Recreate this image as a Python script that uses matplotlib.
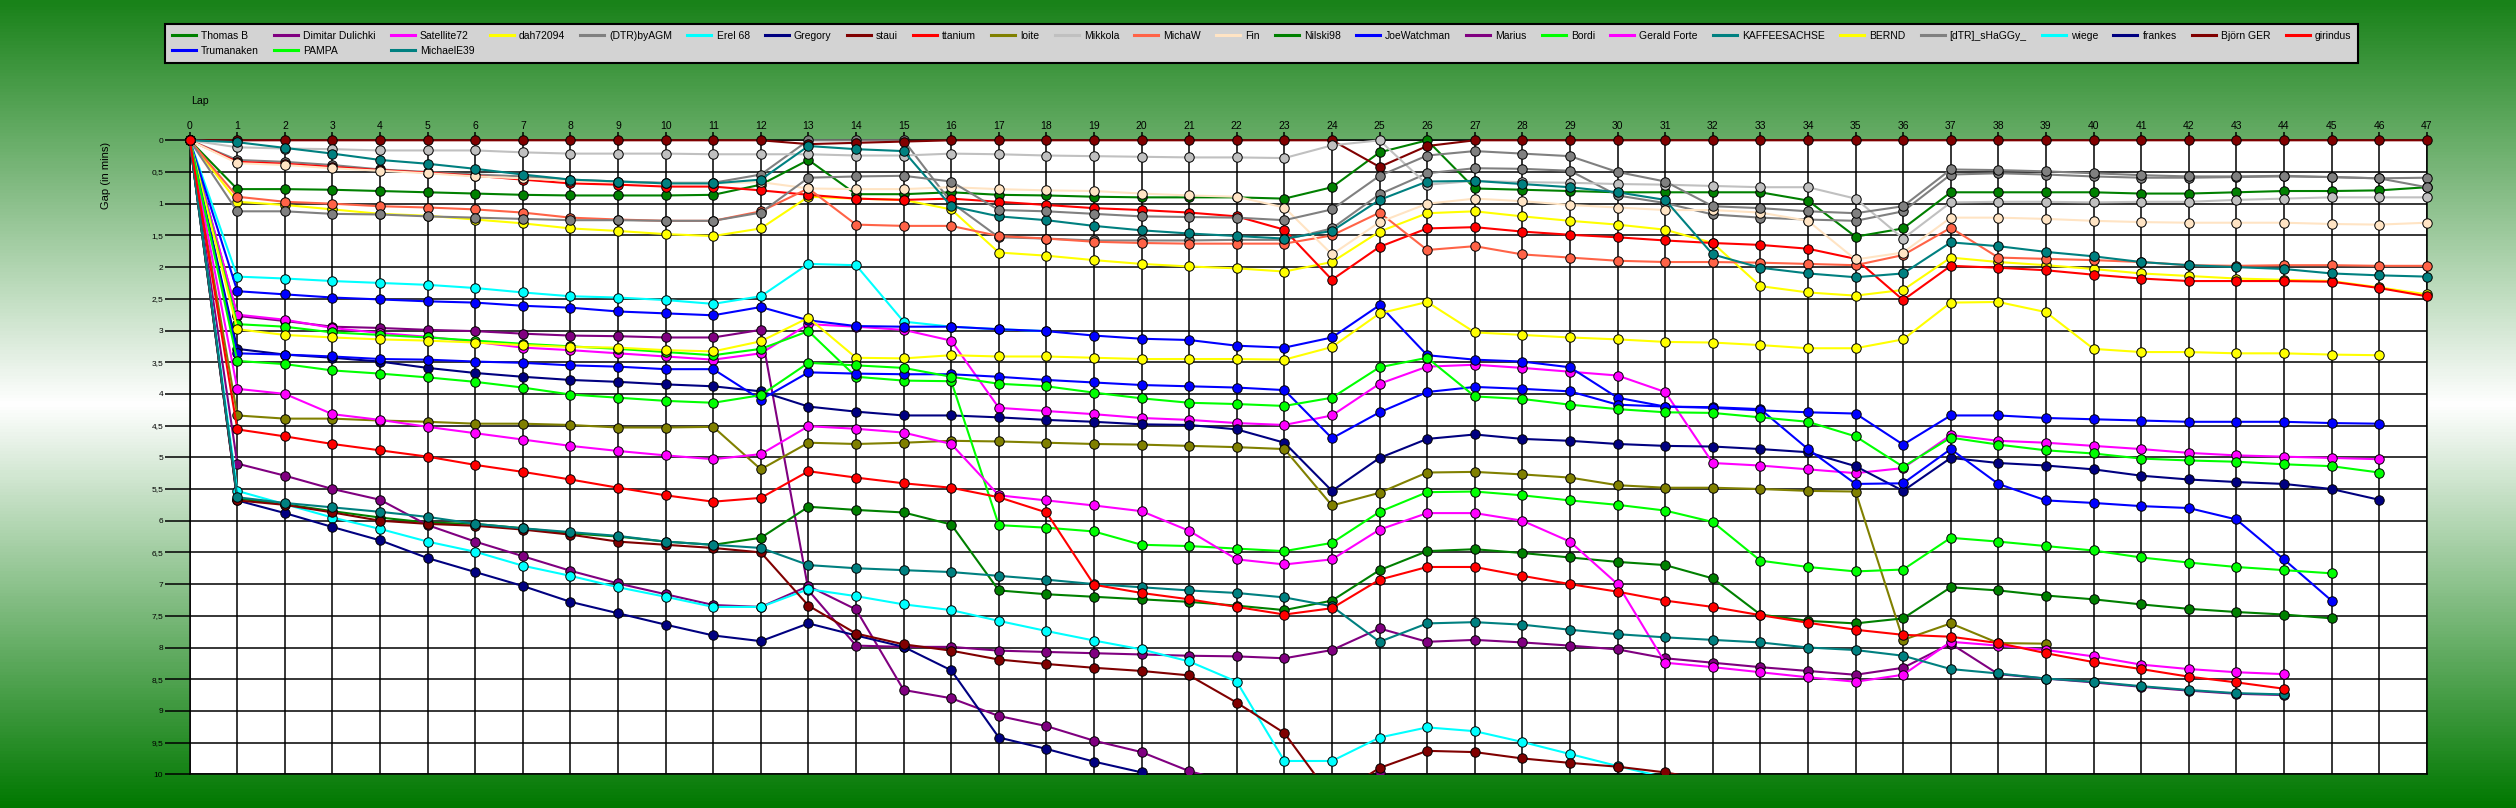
import numpy as np
import matplotlib
matplotlib.use('Agg')
import matplotlib.pyplot as plt
from matplotlib.colors import LinearSegmentedColormap
from matplotlib.patches import Rectangle
from matplotlib.lines import Line2D

plt.rcParams['font.family'] = ['Liberation Sans', 'DejaVu Sans']

# ---------------- data (gap to leader in minutes, per lap) ----------------
laps = list(range(48))

thomas_b = [0, 0.77, 0.77, 0.78, 0.80, 0.82, 0.84, 0.86, 0.87, 0.87,
            0.87, 0.86, 0.70, 0.31, 0.85, 0.85, 0.82, 0.86, 0.87, 0.89,
            0.90, 0.90, 0.90, 0.92, 0.74, 0.19, 0.0, 0.76, 0.78, 0.80,
            0.82, 0.82, 0.82, 0.82, 0.95, 1.52, 1.39, 0.82, 0.82, 0.82,
            0.82, 0.84, 0.84, 0.82, 0.80, 0.80, 0.79, 0.74]
dimitar = [0, 2.77, 2.85, 2.94, 2.96, 2.99, 3.01, 3.05, 3.08, 3.09,
           3.11, 3.11, 2.99, 7.10, 7.97, 7.99, 7.99, 8.05, 8.07, 8.09,
           8.11, 8.13, 8.14, 8.17, 8.04, 7.70, 7.91, 7.88, 7.92, 7.97,
           8.03, 8.17, 8.24, 8.31, 8.37, 8.43, 8.32, 7.94, 8.42, 8.49,
           8.55, 8.62, 8.68, 8.73, 8.75]
satellite72 = [0, 2.75, 2.83, 2.96, 3.04, 3.10, 3.18, 3.27, 3.31, 3.36,
               3.41, 3.46, 3.36, 2.90, 2.94, 2.99, 3.16, 4.22, 4.27, 4.32,
               4.38, 4.41, 4.46, 4.49, 4.34, 3.84, 3.57, 3.54, 3.59, 3.65,
               3.71, 3.97, 5.09, 5.13, 5.19, 5.25, 5.17, 4.65, 4.74, 4.77,
               4.82, 4.87, 4.93, 4.97, 4.99, 5.01, 5.03]
dah72094 = [0, 0.97, 1.02, 1.09, 1.16, 1.19, 1.25, 1.31, 1.39, 1.43,
            1.48, 1.51, 1.39, 0.89, 0.92, 0.94, 1.09, 1.77, 1.82, 1.89,
            1.95, 1.99, 2.02, 2.07, 1.92, 1.44, 1.15, 1.12, 1.20, 1.27,
            1.33, 1.41, 1.62, 2.30, 2.40, 2.45, 2.36, 1.85, 1.92, 1.97,
            2.03, 2.10, 2.14, 2.18, 2.20, 2.22, 2.32, 2.43]
dtr_byagm = [0, 0.31, 0.34, 0.39, 0.46, 0.50, 0.54, 0.57, 0.62, 0.65,
             0.67, 0.67, 0.54, 0.0, 0.0, 0.0, 0.98, 1.53, 1.55, 1.58,
             1.58, 1.58, 1.57, 1.57, 1.39, 0.85, 0.52, 0.44, 0.45, 0.48,
             0.87, 0.99, 1.17, 1.22, 1.25, 1.27, 1.12, 0.54, 0.52, 0.54,
             0.57, 0.59, 0.59, 0.58, 0.57, 0.58, 0.60, 0.59]
erel68 = [0, 2.15, 2.18, 2.22, 2.25, 2.28, 2.33, 2.40, 2.46, 2.48,
          2.52, 2.58, 2.46, 1.95, 1.97, 2.86, 2.94, 2.98, 3.01]
gregory = [0, 3.29, 3.38, 3.43, 3.49, 3.59, 3.67, 3.73, 3.78, 3.81,
           3.85, 3.88, 3.96, 4.20, 4.28, 4.34, 4.34, 4.37, 4.41, 4.44,
           4.48, 4.49, 4.56, 4.77, 5.53, 5.01, 4.71, 4.64, 4.71, 4.74,
           4.79, 4.82, 4.83, 4.87, 4.92, 5.14, 5.53, 5.01, 5.09, 5.13,
           5.19, 5.29, 5.35, 5.39, 5.42, 5.50, 5.67]
staui = [0, 0, 0, 0, 0, 0, 0, 0, 0, 0,
         0, 0, 0, 0.06, 0.04, 0.02, 0, 0, 0, 0,
         0, 0, 0, 0, 0, 0.42, 0.09, 0, 0, 0,
         0, 0, 0, 0, 0, 0, 0, 0, 0, 0,
         0, 0, 0, 0, 0, 0, 0, 0]
ttanium = [0, 0.34, 0.37, 0.42, 0.47, 0.51, 0.56, 0.62, 0.68, 0.70,
           0.73, 0.73, 0.79, 0.86, 0.92, 0.94, 0.92, 0.97, 1.02, 1.07,
           1.10, 1.14, 1.20, 1.41, 2.20, 1.68, 1.39, 1.37, 1.44, 1.49,
           1.53, 1.58, 1.62, 1.65, 1.71, 1.87, 2.52, 1.98, 2.01, 2.05,
           2.12, 2.18, 2.22, 2.22, 2.22, 2.23, 2.33, 2.46]
loite = [0, 4.34, 4.39, 4.39, 4.42, 4.44, 4.47, 4.47, 4.49, 4.53,
         4.53, 4.52, 5.19, 4.77, 4.79, 4.77, 4.74, 4.75, 4.77, 4.79,
         4.80, 4.82, 4.84, 4.87, 5.76, 5.56, 5.24, 5.23, 5.27, 5.32,
         5.44, 5.48, 5.48, 5.50, 5.53, 5.54, 7.88, 7.62, 7.93, 7.94]
mikkola = [0, 0.11, 0.13, 0.14, 0.16, 0.16, 0.16, 0.19, 0.21, 0.21,
           0.21, 0.22, 0.22, 0.22, 0.24, 0.24, 0.21, 0.22, 0.24, 0.25,
           0.26, 0.27, 0.27, 0.28, 0.08, 0.0, 0.70, 0.64, 0.66, 0.67,
           0.69, 0.70, 0.72, 0.74, 0.74, 0.92, 1.55, 0.98, 0.97, 0.97,
           0.98, 0.97, 0.97, 0.94, 0.92, 0.90, 0.90, 0.90]
michaw = [0, 0.89, 0.97, 1.00, 1.04, 1.06, 1.09, 1.14, 1.22, 1.25,
          1.27, 1.27, 1.12, 0.76, 1.33, 1.35, 1.35, 1.51, 1.55, 1.60,
          1.62, 1.63, 1.63, 1.63, 1.50, 1.14, 1.73, 1.67, 1.80, 1.85,
          1.90, 1.92, 1.92, 1.93, 1.95, 1.97, 1.81, 1.38, 1.85, 1.87,
          1.89, 1.92, 1.97, 1.98, 1.97, 1.97, 1.98, 1.98]
fin = [0, 0.36, 0.39, 0.44, 0.48, 0.52, 0.57, 0.60, 0.64, 0.66,
       0.68, 0.68, 0.66, 0.76, 0.77, 0.77, 0.74, 0.77, 0.79, 0.80,
       0.84, 0.87, 0.89, 1.06, 1.80, 1.29, 1.00, 0.92, 0.96, 1.02,
       1.06, 1.10, 1.10, 1.14, 1.27, 1.88, 1.77, 1.22, 1.22, 1.24,
       1.27, 1.29, 1.30, 1.30, 1.30, 1.32, 1.33, 1.30]
nilski98 = [0, 5.65, 5.74, 5.85, 5.95, 6.03, 6.05, 6.12, 6.20, 6.25,
            6.33, 6.38, 6.27, 5.78, 5.83, 5.87, 6.06, 7.10, 7.16, 7.20,
            7.24, 7.28, 7.34, 7.41, 7.26, 6.78, 6.48, 6.45, 6.51, 6.58,
            6.65, 6.70, 6.91, 7.48, 7.58, 7.62, 7.54, 7.05, 7.10, 7.18,
            7.24, 7.32, 7.39, 7.44, 7.48, 7.54]
joewatchman = [0, 2.38, 2.43, 2.48, 2.51, 2.54, 2.56, 2.61, 2.64, 2.70,
               2.73, 2.76, 2.63, 2.84, 2.93, 2.94, 2.94, 2.98, 3.01, 3.08,
               3.13, 3.15, 3.24, 3.27, 3.11, 2.60, 3.39, 3.46, 3.49, 3.58,
               4.06, 4.20, 4.21, 4.24, 4.87, 5.42, 5.41, 4.87, 5.42, 5.68,
               5.72, 5.77, 5.80, 5.98, 6.61, 7.26]
marius = [0, 5.10, 5.29, 5.50, 5.67, 6.07, 6.33, 6.56, 6.79, 6.99,
          7.16, 7.33, 7.36, 7.03, 7.40, 8.67, 8.80, 9.08, 9.24, 9.47,
          9.65, 9.95, 10.15, 10.3, 10.35, 9.98, 10.2, 10.2, 10.3, 10.4,
          10.5]
bordi = [0, 2.90, 2.94, 3.03, 3.07, 3.11, 3.16, 3.21, 3.25, 3.29,
         3.34, 3.39, 3.29, 3.01, 3.73, 3.79, 3.80, 6.07, 6.11, 6.17,
         6.38, 6.40, 6.44, 6.48, 6.35, 5.86, 5.55, 5.54, 5.60, 5.68,
         5.75, 5.84, 6.02, 6.63, 6.73, 6.80, 6.77, 6.27, 6.33, 6.40,
         6.47, 6.58, 6.66, 6.73, 6.78, 6.83]
gerald_forte = [0, 3.92, 4.00, 4.32, 4.41, 4.52, 4.62, 4.72, 4.82, 4.90,
                4.97, 5.03, 4.95, 4.51, 4.55, 4.61, 4.79, 5.60, 5.68, 5.76,
                5.85, 6.16, 6.61, 6.69, 6.61, 6.14, 5.88, 5.88, 6.00, 6.33,
                7.00, 8.24, 8.31, 8.39, 8.47, 8.54, 8.43, 7.91, 7.97, 8.04,
                8.14, 8.27, 8.34, 8.39, 8.42]
kaffeesachse = [0, 0.03, 0.12, 0.21, 0.31, 0.37, 0.45, 0.54, 0.62, 0.65,
                0.68, 0.68, 0.62, 0.09, 0.14, 0.17, 1.04, 1.20, 1.26, 1.35,
                1.42, 1.47, 1.51, 1.55, 1.43, 0.94, 0.65, 0.64, 0.69, 0.74,
                0.82, 0.94, 1.80, 2.01, 2.10, 2.16, 2.10, 1.61, 1.67, 1.76,
                1.83, 1.92, 1.97, 2.00, 2.03, 2.10, 2.13, 2.15]
bernd = [0, 2.98, 3.07, 3.11, 3.14, 3.16, 3.19, 3.23, 3.26, 3.27,
         3.31, 3.33, 3.17, 2.80, 3.43, 3.44, 3.39, 3.41, 3.41, 3.43,
         3.45, 3.45, 3.45, 3.46, 3.26, 2.73, 2.55, 3.03, 3.07, 3.11,
         3.14, 3.18, 3.19, 3.23, 3.28, 3.28, 3.14, 2.56, 2.55, 2.71,
         3.29, 3.34, 3.34, 3.36, 3.36, 3.38, 3.39]
dtr_shaggy = [0, 1.12, 1.12, 1.16, 1.17, 1.20, 1.22, 1.24, 1.26, 1.26,
              1.27, 1.27, 1.14, 0.59, 0.57, 0.56, 0.65, 1.10, 1.12, 1.16,
              1.20, 1.21, 1.22, 1.26, 1.09, 0.56, 0.24, 0.17, 0.21, 0.25,
              0.50, 0.65, 1.04, 1.07, 1.12, 1.15, 1.04, 0.46, 0.47, 0.49,
              0.52, 0.55, 0.57, 0.57, 0.56, 0.58, 0.60, 0.74]
wiege = [0, 5.53, 5.74, 5.95, 6.13, 6.33, 6.49, 6.71, 6.87, 7.05,
         7.20, 7.36, 7.36, 7.08, 7.19, 7.32, 7.41, 7.58, 7.74, 7.89,
         8.03, 8.22, 8.54, 9.79, 9.79, 9.42, 9.26, 9.32, 9.49, 9.68,
         9.87, 10.05, 10.25]
frankes = [0, 5.68, 5.88, 6.10, 6.31, 6.59, 6.81, 7.03, 7.28, 7.46,
           7.64, 7.81, 7.90, 7.62, 7.81, 7.99, 8.36, 9.42, 9.60, 9.80,
           9.97, 10.3, 10.5]
bjorn_ger = [0, 5.68, 5.75, 5.87, 6.00, 6.05, 6.08, 6.14, 6.22, 6.33,
             6.38, 6.43, 6.50, 7.34, 7.78, 7.95, 8.05, 8.19, 8.26, 8.32,
             8.37, 8.44, 8.87, 9.35, 10.37, 9.90, 9.63, 9.65, 9.75, 9.82,
             9.88, 9.97, 10.1, 10.2]
girindus = [0, 4.56, 4.67, 4.79, 4.89, 4.99, 5.12, 5.23, 5.35, 5.48,
            5.60, 5.70, 5.64, 5.22, 5.32, 5.41, 5.48, 5.63, 5.87, 7.01,
            7.14, 7.24, 7.36, 7.48, 7.38, 6.93, 6.73, 6.73, 6.87, 7.00,
            7.12, 7.26, 7.36, 7.49, 7.61, 7.72, 7.80, 7.83, 7.93, 8.09,
            8.23, 8.34, 8.46, 8.55, 8.65]
trumanaken = [0, 3.36, 3.38, 3.41, 3.45, 3.46, 3.49, 3.51, 3.55, 3.57,
              3.61, 3.61, 4.09, 3.66, 3.68, 3.69, 3.69, 3.73, 3.78, 3.82,
              3.86, 3.88, 3.90, 3.94, 4.70, 4.29, 3.97, 3.89, 3.92, 3.96,
              4.17, 4.20, 4.22, 4.26, 4.29, 4.31, 4.80, 4.34, 4.34, 4.38,
              4.40, 4.42, 4.44, 4.44, 4.44, 4.46, 4.47]
pampa = [0, 3.48, 3.53, 3.63, 3.68, 3.74, 3.81, 3.90, 4.01, 4.06,
         4.11, 4.14, 4.02, 3.51, 3.55, 3.59, 3.73, 3.84, 3.88, 3.98,
         4.07, 4.14, 4.16, 4.19, 4.06, 3.58, 3.43, 4.04, 4.08, 4.17,
         4.24, 4.29, 4.30, 4.37, 4.44, 4.67, 5.15, 4.69, 4.80, 4.89,
         4.94, 5.02, 5.05, 5.07, 5.11, 5.14, 5.24]
michaele39 = [0, 5.63, 5.72, 5.79, 5.86, 5.94, 6.05, 6.12, 6.18, 6.24,
              6.33, 6.38, 6.43, 6.70, 6.75, 6.78, 6.81, 6.87, 6.93, 7.00,
              7.05, 7.10, 7.14, 7.21, 7.35, 7.91, 7.62, 7.60, 7.64, 7.72,
              7.79, 7.84, 7.88, 7.92, 8.00, 8.04, 8.13, 8.34, 8.41, 8.49,
              8.54, 8.61, 8.67, 8.72, 8.74]

names = ["Thomas B", "Dimitar Dulichki", "Satellite72", "dah72094", "(DTR)byAGM",
         "Erel 68", "Gregory", "staui", "ttanium", "loite", "Mikkola", "MichaW",
         "Fin", "Nilski98", "JoeWatchman", "Marius", "Bordi", "Gerald Forte",
         "KAFFEESACHSE", "BERND", "[dTR]_sHaGGy_", "wiege", "frankes",
         "Björn GER", "girindus", "Trumanaken", "PAMPA", "MichaelE39"]
series = [thomas_b, dimitar, satellite72, dah72094, dtr_byagm, erel68, gregory,
          staui, ttanium, loite, mikkola, michaw, fin, nilski98, joewatchman,
          marius, bordi, gerald_forte, kaffeesachse, bernd, dtr_shaggy, wiege,
          frankes, bjorn_ger, girindus, trumanaken, pampa, michaele39]
colors = ["#008000", "#800080", "#FF00FF", "#FFFF00", "#808080", "#00FFFF",
          "#000080", "#800000", "#FF0000", "#808000", "#C0C0C0", "#FF6347",
          "#FFE4C4", "#008000", "#0000FF", "#800080", "#00FF00", "#FF00FF",
          "#008080", "#FFFF00", "#808080", "#00FFFF", "#000080", "#800000",
          "#FF0000", "#0000FF", "#00FF00", "#008080"]

# ---------------- figure ----------------
W, H = 2516, 808
fig = plt.figure(figsize=(W / 100, H / 100), dpi=100)

bg = fig.add_axes([0, 0, 1, 1], zorder=-10)
cmap = LinearSegmentedColormap.from_list(
    'bg', [(0.0, (25 / 255, 130 / 255, 25 / 255)),
           (0.5, (1, 1, 1)),
           (1.0, (0, 120 / 255, 0))])
grad = np.linspace(0, 1, 808).reshape(-1, 1)
bg.imshow(grad, aspect='auto', cmap=cmap, extent=[0, 1, 0, 1], origin='upper')
bg.set_axis_off()

x0, x1, y0, y1 = 189.7, 2426.7, 140.3, 774.3
ax = fig.add_axes([x0 / W, 1 - y1 / H, (x1 - x0) / W, (y1 - y0) / H])
ax.set_facecolor('white')
ax.set_xlim(0, 47)
ax.set_ylim(10, 0)

yt = np.arange(0, 10.01, 0.5)
ax.set_yticks(yt)
ax.set_yticklabels([('%g' % v).replace('.', ',') for v in yt])
ax.set_xticks(laps)
ax.xaxis.tick_top()
ax.tick_params(axis='y', length=18, width=1.1, pad=1, labelsize=6, colors='black')
ax.tick_params(axis='x', top=True, bottom=False, length=6, width=1.1, pad=1,
               labelsize=7.5, colors='black')
ax.grid(True, color='black', linewidth=1.1)
ax.set_axisbelow(True)
for s in ax.spines.values():
    s.set_color('black')
    s.set_linewidth(1.1)

clip = Rectangle((-0.02, 0), 1.04, 1.05, transform=ax.transAxes,
                 facecolor='none', edgecolor='none')

draw_order = list(range(24)) + [25, 26, 27, 24]
for k, i in enumerate(draw_order):
    vals = np.array(series[i], dtype=float)
    ln, = ax.plot(laps[:len(vals)], vals, '-o', color=colors[i], lw=1.5,
                  ms=6.8, mec='black', mew=0.7, zorder=3 + k * 0.01)
    ln.set_clip_path(clip)

fig.text(200 / W, 1 - 101 / H, 'Lap', ha='center', va='center', fontsize=7.6)
fig.text(106 / W, 1 - 175 / H, 'Gap (in mins)', rotation=90, ha='center',
         va='center', fontsize=8)

# legend (column-major order so that last 3 entries fall on 2nd row)
order = [0, 25, 1, 26, 2, 27] + list(range(3, 25))
handles = [Line2D([], [], color=colors[i], lw=2.2) for i in order]
labels = [names[i] for i in order]
leg = fig.legend(handles, labels, loc='upper left',
                 bbox_to_anchor=(165 / W, 1 - 24 / H), ncol=25, frameon=True,
                 fancybox=False, facecolor='#D3D3D3', edgecolor='black',
                 framealpha=1, fontsize=7.5, handlelength=2.3,
                 handletextpad=0.5, columnspacing=1.45, borderpad=0.65,
                 labelspacing=0.5, borderaxespad=0)
leg.get_frame().set_linewidth(1.5)

fig.savefig('out.png', dpi=100)
